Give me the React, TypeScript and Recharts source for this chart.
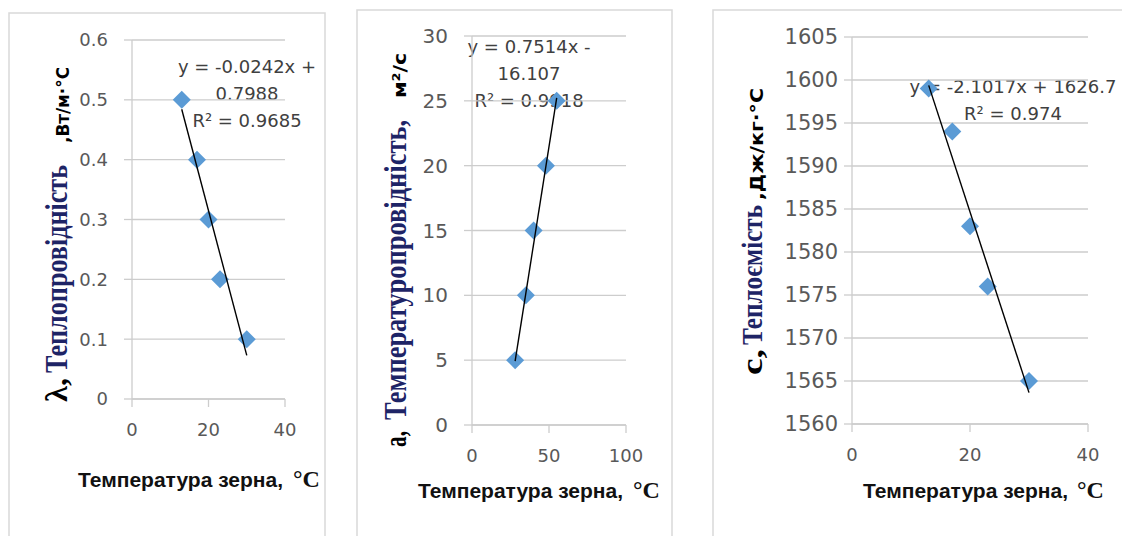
import React from 'react';
import { ScatterChart, Scatter, XAxis, YAxis, CartesianGrid } from 'recharts';

// panel 1: thermal conductivity
const p1Temp = [13, 17, 20, 23, 30];
const p1Lambda = [0.5, 0.4, 0.3, 0.2, 0.1];
const p1XTicks = [0, 20, 40];
const p1YTicks = [0, 0.1, 0.2, 0.3, 0.4, 0.5, 0.6];
const p1Fit = { slope: -0.0242, intercept: 0.7988 };
const p1FitText = ['y = -0.0242x +', '0.7988', 'R² = 0.9685'];

// panel 2: thermal diffusivity
const p2Temp = [28, 35, 40, 48, 55];
const p2A = [5, 10, 15, 20, 25];
const p2XTicks = [0, 50, 100];
const p2YTicks = [0, 5, 10, 15, 20, 25, 30];
const p2Fit = { slope: 0.7514, intercept: -16.107 };
const p2FitText = ['y = 0.7514x -', '16.107', 'R² = 0.9918'];

// panel 3: heat capacity
const p3Temp = [13, 17, 20, 23, 30];
const p3C = [1599, 1594, 1583, 1576, 1565];
const p3XTicks = [0, 20, 40];
const p3YTicks = [1560, 1565, 1570, 1575, 1580, 1585, 1590, 1595, 1600, 1605];
const p3Fit = { slope: -2.1017, intercept: 1626.7 };
const p3FitText = ['y = -2.1017x + 1626.7', 'R² = 0.974'];

const W = 1122;
const H = 536;
const GRID = '#cdcdcd';
const TICK = '#595959';
const MARK = '#5b9bd5';
const NAVY = '#1e2466';
const AXW = 60; // y axis band
const AXH = 40; // x axis band
const SERIF = 'Liberation Serif';
const SANS = 'DejaVu Sans';

const toPoints = (xs: number[], ys: number[]) => xs.map((x, i) => ({ x, y: ys[i] }));

// excel-style linear trendline between min and max x
const fitLine = (xs: number[], fit: { slope: number; intercept: number }) => {
  const lo = Math.min(...xs);
  const hi = Math.max(...xs);
  return [lo, hi].map((x) => ({ x, y: fit.slope * x + fit.intercept }));
};

const Diamond = (props: any) => {
  const { cx, cy } = props;
  const r = 9;
  return <polygon points={`${cx},${cy - r} ${cx + r},${cy} ${cx},${cy + r} ${cx - r},${cy}`} fill={MARK} />;
};

const NoDot = () => <g />;

const Panel = ({ plot, xs, ys, xTicks, yTicks, fit, yFont, xFont, yTickMargin }: any) => {
  const [left, top, right, bottom] = plot;
  return (
    <div style={{ position: 'absolute', left: 0, top: 0 }}>
      <ScatterChart
        width={W}
        height={H}
        margin={{ left: left - AXW, top, right: W - right, bottom: H - bottom - AXH }}
      >
        <CartesianGrid vertical={false} stroke={GRID} strokeWidth={1.3} />
        <XAxis
          type="number"
          dataKey="x"
          domain={[xTicks[0], xTicks[xTicks.length - 1]]}
          ticks={xTicks}
          interval={0}
          height={AXH}
          axisLine={{ stroke: GRID, strokeWidth: 1.3 }}
          tickLine={{ stroke: GRID, strokeWidth: 1.3 }}
          tickSize={8}
          tickMargin={16}
          tick={{ fill: TICK, fontSize: xFont, fontFamily: SANS }}
        />
        <YAxis
          type="number"
          dataKey="y"
          domain={[yTicks[0], yTicks[yTicks.length - 1]]}
          ticks={yTicks}
          interval={0}
          width={AXW}
          axisLine={{ stroke: GRID, strokeWidth: 1.3 }}
          tickLine={{ stroke: GRID, strokeWidth: 1.3 }}
          tickSize={8}
          tickMargin={yTickMargin}
          tick={{ fill: TICK, fontSize: yFont, fontFamily: SANS }}
        />
        <Scatter data={toPoints(xs, ys)} shape={Diamond} isAnimationActive={false} />
        <Scatter
          data={fitLine(xs, fit)}
          shape={NoDot}
          line={{ stroke: '#000', strokeWidth: 1.4 }}
          isAnimationActive={false}
        />
      </ScatterChart>
    </div>
  );
};

// rotated axis title piece, runs upward from (x, y)
const VText = ({ x, y, len, size, family, color, children }: any) => (
  <text
    transform={`translate(${x},${y}) rotate(-90)`}
    textLength={len}
    lengthAdjust="spacingAndGlyphs"
    fontSize={size}
    fontFamily={family}
    fontWeight="bold"
    fill={color || '#000'}
  >
    {children}
  </text>
);

// x title: sans words, serif unit
const XTitle = ({ x, y, unitX }: any) => (
  <g fontWeight="bold" fill="#111">
    <text x={x} y={y} fontFamily="Liberation Sans" fontSize={21}>
      Температура зерна,
    </text>
    <text x={unitX} y={y} fontFamily={SERIF} fontSize={24}>
      °С
    </text>
  </g>
);

const FitLabel = ({ cx, y0, step, lines }: any) => (
  <g fontFamily={SANS} fontSize={18} fill="#404040" textAnchor="middle">
    {lines.map((t: string, i: number) => (
      <text key={i} x={cx} y={y0 + i * step}>
        {t}
      </text>
    ))}
  </g>
);

const Decor = () => (
  <svg width={W} height={H} style={{ position: 'absolute', left: 0, top: 0 }}>
    <rect x={9} y={13} width={316} height={540} fill="#fff" stroke="#d9d9d9" strokeWidth={1.5} />
    <rect x={357} y={10} width={315} height={540} fill="#fff" stroke="#d9d9d9" strokeWidth={1.5} />
    <rect x={713} y={10} width={420} height={540} fill="#fff" stroke="#d9d9d9" strokeWidth={1.5} />

    <FitLabel cx={247} y0={73} step={27} lines={p1FitText} />
    <FitLabel cx={529} y0={53} step={27} lines={p2FitText} />
    <FitLabel cx={1013} y0={93} step={27} lines={p3FitText} />

    {/* y titles */}
    <VText x={67} y={402} len={24} size={31} family={SERIF}>λ,</VText>
    <VText x={67} y={373} len={208} size={31} family={SERIF} color={NAVY}>Теплопровідність</VText>
    <VText x={69} y={143} len={76} size={18} family={SANS}>,Вт/м·°С</VText>

    <VText x={406} y={447} len={16} size={31} family={SERIF}>а,</VText>
    <VText x={406} y={420} len={300} size={31} family={SERIF} color={NAVY}>Температуропровідність,</VText>
    <VText x={406} y={98} len={45} size={18} family={SANS}>м²/с</VText>

    <VText x={762} y={375} len={26} size={30} family={SERIF}>с,</VText>
    <VText x={762} y={345} len={140} size={30} family={SERIF} color={NAVY}>Теплоємість</VText>
    <VText x={763} y={200} len={112} size={18} family={SANS}>,Дж/кг·°С</VText>

    {/* x titles */}
    <XTitle x={78} y={487} unitX={293} />
    <XTitle x={418} y={498} unitX={633} />
    <XTitle x={863} y={498} unitX={1077} />
  </svg>
);

export default function App() {
  return (
    <div style={{ position: 'fixed', left: 0, top: 0, width: W, height: H, background: '#fff' }}>
      <Decor />
      <Panel plot={[132, 40, 285, 399]} xs={p1Temp} ys={p1Lambda} xTicks={p1XTicks} yTicks={p1YTicks} fit={p1Fit} yFont={18} xFont={18} yTickMargin={16} />
      <Panel plot={[472, 36, 626, 425]} xs={p2Temp} ys={p2A} xTicks={p2XTicks} yTicks={p2YTicks} fit={p2Fit} yFont={20} xFont={18} yTickMargin={16} />
      <Panel plot={[852, 37, 1088, 424]} xs={p3Temp} ys={p3C} xTicks={p3XTicks} yTicks={p3YTicks} fit={p3Fit} yFont={21} xFont={18} yTickMargin={6} />
    </div>
  );
}
